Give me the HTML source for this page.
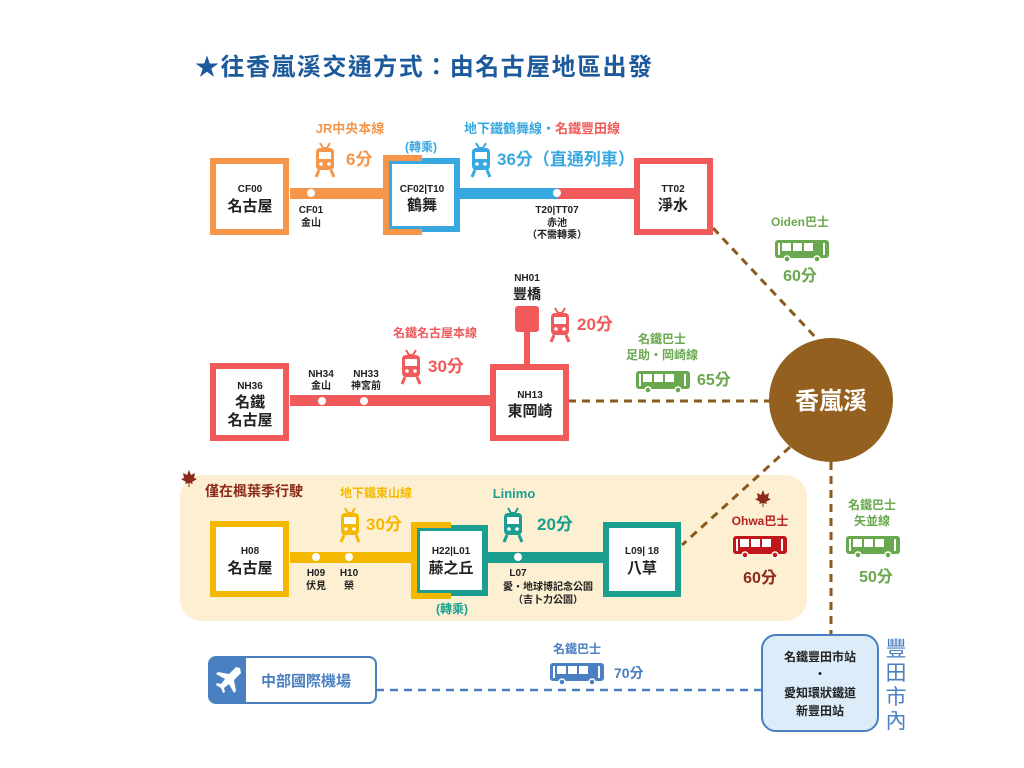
<!DOCTYPE html>
<html><head><meta charset="utf-8"><style>
html,body{margin:0;padding:0;background:#fff;}
svg{display:block;font-family:"Liberation Sans","Noto Sans CJK TC",sans-serif;}
.b{font-weight:bold;}
</style></head><body>
<svg width="1024" height="768" viewBox="0 0 1024 768" xmlns="http://www.w3.org/2000/svg">
<defs>
<g id="train">
<path d="M4 0 L7 5 L11 5 L14 0" fill="none" stroke="currentColor" stroke-width="2"/>
<rect x="0" y="5" width="18" height="22" rx="4" fill="currentColor"/>
<rect x="3" y="9" width="12" height="7" fill="#fff"/>
<circle cx="5" cy="21" r="1.8" fill="#fff"/><circle cx="13" cy="21" r="1.8" fill="#fff"/>
<path d="M3 27 L0 34 M15 27 L18 34" stroke="currentColor" stroke-width="3"/>
</g>
<g id="bus">
<rect x="0" y="0" width="54" height="18" rx="3" fill="currentColor"/>
<rect x="7" y="3" width="9" height="8" fill="#fff"/><rect x="18" y="3" width="9" height="8" fill="#fff"/><rect x="29" y="3" width="9" height="8" fill="#fff"/>
<rect x="3" y="3" width="2" height="12" fill="#fff"/><rect x="48" y="3" width="2" height="12" fill="#fff"/>
<circle cx="12" cy="19" r="3" fill="currentColor" stroke="#fff" stroke-width="1.5"/><circle cx="42" cy="19" r="3" fill="currentColor" stroke="#fff" stroke-width="1.5"/>
</g>
<path id="leaf" d="M8 0 L10 5 L14 3 L13 8 L16 9 L11 12 L12 14 L8.5 13 L8.5 17 L7.5 17 L7.5 13 L4 14 L5 12 L0 9 L3 8 L2 3 L6 5 Z"/>
</defs>

<text x="195" y="75" font-size="24" class="b" fill="#1d5a9c" textLength="457">★往香嵐溪交通方式：由名古屋地區出發</text>

<!-- Row 3 background -->
<rect x="180" y="475" width="627" height="146" rx="22" fill="#fdf0d2"/>

<!-- dashed connectors -->
<g stroke="#8b5a1e" stroke-width="3" stroke-dasharray="8,6" fill="none">
<line x1="713" y1="228" x2="818" y2="340"/>
<line x1="568" y1="401" x2="770" y2="401"/>
<line x1="790" y1="447" x2="682" y2="545"/>
<line x1="831" y1="462" x2="831" y2="635"/>
</g>
<line x1="376" y1="690" x2="762" y2="690" stroke="#4a7fc1" stroke-width="2.5" stroke-dasharray="8,6"/>

<!-- Row 1 -->
<rect x="290" y="188" width="98" height="11" fill="#f5964a"/>
<rect x="458" y="188" width="100" height="11" fill="#38a8e0"/>
<rect x="558" y="188" width="78" height="11" fill="#f05a5a"/>
<rect x="213" y="161" width="73" height="71" fill="#fff" stroke="#f5964a" stroke-width="6"/>
<rect x="389" y="161" width="68" height="68" fill="#fff" stroke="#38a8e0" stroke-width="6"/>
<path d="M422 158 H386 V232 H422" fill="none" stroke="#f5964a" stroke-width="6"/>
<rect x="637" y="161" width="73" height="71" fill="#fff" stroke="#f05a5a" stroke-width="6"/>
<circle cx="311" cy="193" r="4" fill="#fff"/><circle cx="557" cy="193" r="4" fill="#fff"/>
<g text-anchor="middle" class="b" fill="#222">
<text x="250" y="192" font-size="10">CF00</text><text x="250" y="211" font-size="15">名古屋</text>
<text x="422" y="192" font-size="10">CF02|T10</text><text x="422" y="210" font-size="15">鶴舞</text>
<text x="673" y="192" font-size="10">TT02</text><text x="673" y="210" font-size="15">淨水</text>
<text x="311" y="213" font-size="10">CF01</text><text x="311" y="226" font-size="10">金山</text>
<text x="557" y="213" font-size="10">T20|TT07</text><text x="557" y="226" font-size="10">赤池</text><text x="557" y="238" font-size="10">（不需轉乘）</text>
</g>
<text x="350" y="133" font-size="13" class="b" fill="#f5964a" text-anchor="middle">JR中央本線</text>
<use href="#train" x="316" y="143" style="color:#f5964a"/>
<text x="346" y="165" font-size="17" class="b" fill="#f5964a">6分</text>
<text x="421" y="151" font-size="12" class="b" fill="#38a8e0" text-anchor="middle">(轉乘)</text>
<text x="464" y="133" font-size="13" class="b" fill="#38a8e0">地下鐵鶴舞線・<tspan fill="#f05a5a">名鐵豐田線</tspan></text>
<use href="#train" x="472" y="143" style="color:#38a8e0"/>
<text x="497" y="165" font-size="17" class="b" fill="#38a8e0">36分（直通列車）</text>

<!-- Row 2 -->
<rect x="290" y="395" width="200" height="11" fill="#f05a5a"/>
<rect x="524" y="330" width="6" height="36" fill="#f05a5a"/>
<rect x="515" y="306" width="24" height="26" rx="3" fill="#f05a5a"/>
<rect x="213" y="366" width="73" height="72" fill="#fff" stroke="#f05a5a" stroke-width="6"/>
<rect x="493" y="367" width="73" height="71" fill="#fff" stroke="#f05a5a" stroke-width="6"/>
<circle cx="322" cy="401" r="4" fill="#fff"/><circle cx="364" cy="401" r="4" fill="#fff"/>
<g text-anchor="middle" class="b" fill="#222">
<text x="250" y="389" font-size="10">NH36</text><text x="250" y="407" font-size="15">名鐵</text><text x="250" y="425" font-size="15">名古屋</text>
<text x="530" y="398" font-size="10">NH13</text><text x="530" y="416" font-size="15">東岡崎</text>
<text x="527" y="281" font-size="10">NH01</text><text x="527" y="299" font-size="14">豐橋</text>
<text x="321" y="377" font-size="10">NH34</text><text x="321" y="389" font-size="10">金山</text>
<text x="366" y="377" font-size="10">NH33</text><text x="366" y="389" font-size="10">神宮前</text>
</g>
<text x="435" y="337" font-size="12" class="b" fill="#f05a5a" text-anchor="middle">名鐵名古屋本線</text>
<use href="#train" x="402" y="350" style="color:#f05a5a"/>
<text x="428" y="372" font-size="17" class="b" fill="#f05a5a">30分</text>
<use href="#train" x="551" y="308" style="color:#f05a5a"/>
<text x="577" y="330" font-size="17" class="b" fill="#f05a5a">20分</text>
<text x="662" y="343" font-size="12" class="b" fill="#6aa84f" text-anchor="middle">名鐵巴士</text>
<text x="662" y="359" font-size="12" class="b" fill="#6aa84f" text-anchor="middle">足助・岡崎線</text>
<use href="#bus" x="636" y="371" style="color:#6aa84f"/>
<text x="697" y="385" font-size="16" class="b" fill="#6aa84f">65分</text>

<!-- center circle -->
<circle cx="831" cy="400" r="62" fill="#94601f"/>
<text x="831" y="409" font-size="24" class="b" fill="#fff" text-anchor="middle">香嵐溪</text>

<text x="800" y="226" font-size="12" class="b" fill="#6aa84f" text-anchor="middle">Oiden巴士</text>
<use href="#bus" x="775" y="240" style="color:#6aa84f"/>
<text x="800" y="281" font-size="16" class="b" fill="#6aa84f" text-anchor="middle">60分</text>
<text x="872" y="509" font-size="12" class="b" fill="#6aa84f" text-anchor="middle">名鐵巴士</text>
<text x="872" y="525" font-size="12" class="b" fill="#6aa84f" text-anchor="middle">矢並線</text>
<use href="#bus" x="846" y="536" style="color:#6aa84f"/>
<text x="876" y="582" font-size="16" class="b" fill="#6aa84f" text-anchor="middle">50分</text>

<!-- Row 3 -->
<use href="#leaf" x="181" y="470" fill="#8b2a1a"/>
<text x="205" y="496" font-size="14" class="b" fill="#8b2a1a">僅在楓葉季行駛</text>
<rect x="290" y="552" width="126" height="11" fill="#f5b800"/>
<rect x="486" y="552" width="118" height="11" fill="#1a9e8f"/>
<rect x="213" y="524" width="73" height="70" fill="#fff" stroke="#f5b800" stroke-width="6"/>
<rect x="417" y="528" width="68" height="65" fill="#fff" stroke="#1a9e8f" stroke-width="6"/>
<path d="M451 525 H414 V596 H451" fill="none" stroke="#f5b800" stroke-width="6"/>
<rect x="606" y="525" width="72" height="69" fill="#fff" stroke="#1a9e8f" stroke-width="6"/>
<circle cx="316" cy="557" r="4" fill="#fff"/><circle cx="349" cy="557" r="4" fill="#fff"/><circle cx="518" cy="557" r="4" fill="#fff"/>
<g text-anchor="middle" class="b" fill="#222">
<text x="250" y="554" font-size="10">H08</text><text x="250" y="573" font-size="15">名古屋</text>
<text x="451" y="554" font-size="10">H22|L01</text><text x="451" y="573" font-size="15">藤之丘</text>
<text x="642" y="554" font-size="10">L09| 18</text><text x="642" y="573" font-size="15">八草</text>
<text x="316" y="576" font-size="10">H09</text><text x="316" y="589" font-size="10">伏見</text>
<text x="349" y="576" font-size="10">H10</text><text x="349" y="589" font-size="10">榮</text>
<text x="518" y="576" font-size="10">L07</text><text x="548" y="590" font-size="10">愛・地球博記念公園</text><text x="548" y="603" font-size="10">（吉卜力公園）</text>
</g>
<text x="376" y="497" font-size="12" class="b" fill="#f5b800" text-anchor="middle">地下鐵東山線</text>
<use href="#train" x="341" y="508" style="color:#f5b800"/>
<text x="366" y="530" font-size="17" class="b" fill="#f5b800">30分</text>
<text x="514" y="498" font-size="13" class="b" fill="#1a9e8f" text-anchor="middle">Linimo</text>
<use href="#train" x="504" y="508" style="color:#1a9e8f"/>
<text x="537" y="530" font-size="17" class="b" fill="#1a9e8f">20分</text>
<text x="452" y="613" font-size="12" class="b" fill="#1a9e8f" text-anchor="middle">(轉乘)</text>
<use href="#leaf" x="755" y="490" fill="#8b2a1a"/>
<text x="760" y="525" font-size="12" class="b" fill="#b22222" text-anchor="middle">Ohwa巴士</text>
<use href="#bus" x="733" y="536" style="color:#c0161c"/>
<text x="760" y="583" font-size="16" class="b" fill="#8b2a1a" text-anchor="middle">60分</text>

<!-- Row 4 -->
<rect x="209" y="657" width="167" height="46" rx="7" fill="#fff" stroke="#4a7fc1" stroke-width="2"/>
<path d="M216 657 H246 V703 H216 Q209 703 209 696 V664 Q209 657 216 657 Z" fill="#4a7fc1"/>
<path d="M240 668 L236 667 L229 674 L218 672 L216 674 L225 679 L221 684 L217 683 L216 685 L221 688 L223 693 L225 692 L224 688 L229 684 L234 693 L236 691 L234 680 L241 673 Z" fill="#fff"/>
<text x="261" y="686" font-size="15" class="b" fill="#4a7fc1">中部國際機場</text>
<text x="577" y="653" font-size="12" class="b" fill="#4a7fc1" text-anchor="middle">名鐵巴士</text>
<use href="#bus" x="550" y="663" style="color:#4a7fc1"/>
<text x="614" y="678" font-size="14" class="b" fill="#4a7fc1">70分</text>
<rect x="762" y="635" width="116" height="96" rx="14" fill="#dcecf8" stroke="#4a7fc1" stroke-width="2"/>
<g text-anchor="middle" class="b" fill="#222" font-size="12">
<text x="820" y="661">名鐵豐田市站</text><text x="820" y="678">・</text>
<text x="820" y="697">愛知環狀鐵道</text><text x="820" y="715">新豐田站</text>
</g>
<g font-size="21" fill="#4a7fc1" text-anchor="middle">
<text x="896" y="656">豐</text><text x="896" y="680">田</text><text x="896" y="704">市</text><text x="896" y="728">內</text>
</g>
</svg>
</body></html>
